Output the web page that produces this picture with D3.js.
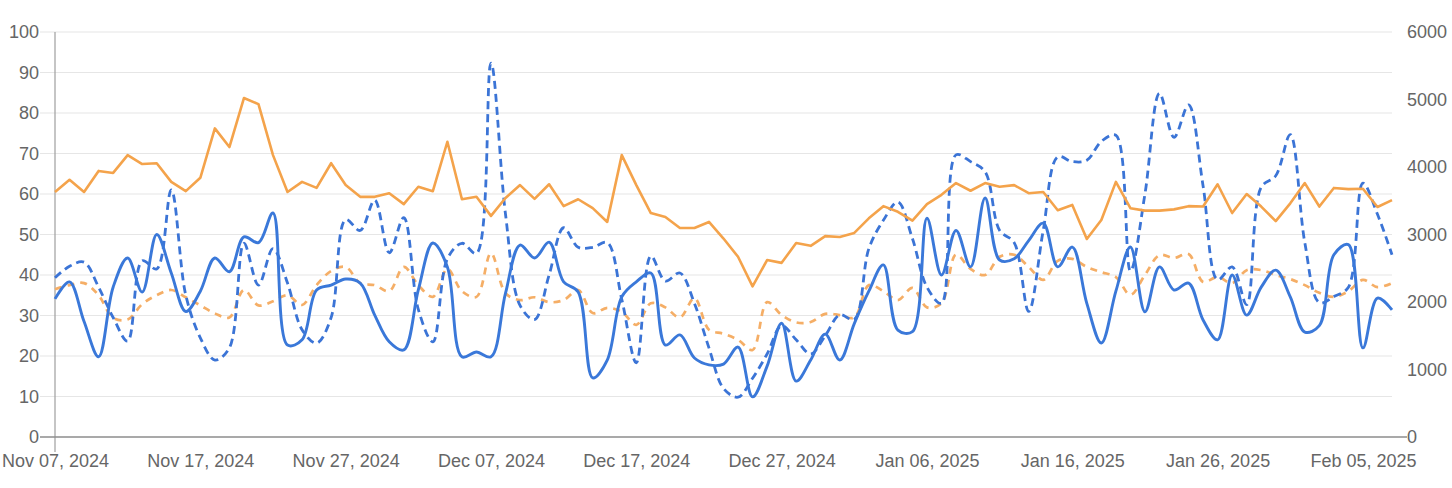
<!DOCTYPE html>
<html>
<head>
<meta charset="utf-8">
<script src="https://cdn.jsdelivr.net/npm/d3@7"></script>
<style>
  body { margin: 0; background: #fff; }
  svg { display: block; font-family: "Liberation Sans", Arial, sans-serif; }
</style>
</head>
<body>
<svg id="chart" width="1452" height="488"></svg>
<script>
// daily values, Nov 07 2024 .. Feb 07 2025
var startDate = new Date(2024, 10, 7);

var orangeSolid = [60.5, 63.5, 60.5, 65.7, 65.2, 69.6, 67.4, 67.6, 63, 60.7,
    64, 76.2, 71.6, 83.7, 82.2, 69.6, 60.5, 63, 61.5, 67.6,
    62.2, 59.3, 59.3, 60.2, 57.5, 61.8, 60.7, 72.9, 58.7, 59.3,
    54.6, 59, 62.2, 58.8, 62.4, 57, 58.7, 56.5, 53.1, 69.6,
    62.2, 55.3, 54.3, 51.6, 51.6, 53.1, 49, 44.5, 37.2, 43.7,
    43, 47.9, 47.2, 49.6, 49.4, 50.4, 54, 57, 55.6, 53.4,
    57.5, 59.8, 62.7, 60.8, 62.7, 61.8, 62.2, 60.2, 60.5, 56,
    57.3, 48.9, 53.6, 63, 56.5, 55.9, 55.9, 56.2, 57, 56.9,
    62.4, 55.3, 60, 56.9, 53.3, 57.7, 62.7, 56.9, 61.5, 61.2,
    61.3, 56.8, 58.5];

var orangeDashed = [36.5, 37.5, 38, 35, 29.4, 29, 32.8, 35, 36.3, 34.5,
    32.5, 30.5, 29.5, 36.3, 32.5, 33.5, 35, 32.6, 37.5, 41,
    42, 38, 37.5, 36, 42, 37.5, 34.6, 41.5, 36, 34.6,
    45.4, 35.5, 33.8, 34.5, 33.3, 33.8, 36.3, 30.6, 31.9, 30.9,
    27.7, 33, 32, 29.5, 34.3, 26.5, 25.5, 24, 21.5, 33.3,
    30.1, 28.3, 28.4, 30.4, 30.1, 29.5, 37.5, 36, 33.8, 36.8,
    32, 33, 45, 41.5, 40, 44.5, 45, 42, 38.8, 43.5,
    44, 42, 40.7, 39.5, 35.1, 40, 44.9, 44.2, 45.2, 38.3,
    39.5, 38, 41.2, 41.2, 40, 39, 37.5, 35.6, 34.6, 36,
    38.8, 37, 38];

var blueSolid = [34.1, 38.3, 28.5, 19.8, 37, 44.2, 35.8, 50, 40.5, 31,
    36, 44.2, 40.8, 49.4, 48, 55.3, 22.7, 24, 36.3, 37.5,
    39, 38, 30.1, 23.5, 21.5, 36.3, 47.9, 42, 19.8, 21,
    19.8, 35.5, 47.4, 44.2, 48.1, 38.3, 35.8, 14.6, 19, 34.6,
    38.3, 40.5, 22.7, 25.2, 19.5, 17.8, 18, 22.2, 9.9, 17.5,
    28.1, 13.8, 19, 25.4, 19, 28, 36, 42.5, 26.4, 26,
    54, 40, 51, 42, 59, 43.7, 44, 48.5, 52.8, 42,
    46.9, 33, 23.2, 36, 46.9, 30.9, 42, 36.3, 38, 28.9,
    24, 40, 30.1, 37, 41.2, 34.6, 25.9, 27.5, 45, 47.5,
    22, 34.3, 31.4];

// right axis units
var blueDashed = [2360, 2530, 2590, 2220, 1770, 1420, 2610, 2490, 3660, 2100,
    1470, 1140, 1320, 2870, 2250, 2790, 2280, 1590, 1390, 1770,
    3220, 3060, 3510, 2730, 3250, 1890, 1410, 2640, 2870, 2720,
    5540, 3300, 1950, 1740, 2400, 3100, 2810, 2810, 2880, 2040,
    1100, 2680, 2310, 2430, 1980, 1320, 720, 590, 870, 1230,
    1650, 1440, 1230, 1500, 1810, 1740, 2790, 3210, 3480, 2940,
    2220, 1980, 4180, 4080, 3930, 3060, 2880, 1860, 3060, 4150,
    4080, 4100, 4380, 4470, 2460, 3600, 5090, 4440, 4920, 3720,
    2330, 2520, 1960, 3700, 3870, 4480, 2880, 1990, 2080, 2220,
    3760, 3300, 2700];

var xTickLabels = ["Nov 07, 2024", "Nov 17, 2024", "Nov 27, 2024", "Dec 07, 2024",
    "Dec 17, 2024", "Dec 27, 2024", "Jan 06, 2025", "Jan 16, 2025",
    "Jan 26, 2025", "Feb 05, 2025"];
var leftTicks = [0, 10, 20, 30, 40, 50, 60, 70, 80, 90, 100];
var rightTicks = [0, 1000, 2000, 3000, 4000, 5000, 6000];

var svg = d3.select("#chart");
var plotLeft = 55, plotRight = 1392, plotTop = 32, plotBottom = 437;

function dayDate(i) {
    return d3.timeDay.offset(startDate, i);
}

var x = d3.scaleTime()
    .domain([startDate, dayDate(orangeSolid.length - 1)])
    .range([plotLeft, plotRight]);

var yLeft = d3.scaleLinear().domain([0, 100]).range([plotBottom, plotTop]);
var yRight = d3.scaleLinear().domain([0, 6000]).range([plotBottom, plotTop]);

var textColor = "#666";
var fontSize = "18px";

// gridlines
svg.append("g")
    .selectAll("line")
    .data(leftTicks.slice(1))
    .enter()
    .append("line")
    .attr("x1", 40)
    .attr("x2", plotRight)
    .attr("y1", function(d) { return yLeft(d); })
    .attr("y2", function(d) { return yLeft(d); })
    .attr("stroke", "#e6e6e6")
    .attr("stroke-width", 1.2);

// left axis
var leftAxis = svg.append("g")
    .attr("transform", "translate(" + plotLeft + ",0)")
    .call(d3.axisLeft(yLeft).tickValues(leftTicks).tickSize(0).tickPadding(16));
leftAxis.select(".domain").remove();
leftAxis.selectAll("text")
    .attr("fill", textColor)
    .attr("font-size", fontSize)
    .attr("font-family", "Liberation Sans, Arial, sans-serif");

svg.append("line")
    .attr("x1", plotLeft).attr("x2", plotLeft)
    .attr("y1", plotTop).attr("y2", plotBottom + 15)
    .attr("stroke", "#9e9e9e")
    .attr("stroke-width", 1.2);

// right axis
var rightAxis = svg.append("g")
    .attr("transform", "translate(" + plotRight + ",0)")
    .call(d3.axisRight(yRight).tickValues(rightTicks).tickSize(0).tickPadding(15)
        .tickFormat(d3.format("d")));
rightAxis.select(".domain").remove();
rightAxis.selectAll("text")
    .attr("fill", textColor)
    .attr("font-size", fontSize)
    .attr("font-family", "Liberation Sans, Arial, sans-serif");

// bottom axis
var tickDates = xTickLabels.map(function(d, i) { return dayDate(i * 10); });
var bottomAxis = svg.append("g")
    .attr("transform", "translate(0," + plotBottom + ")")
    .call(d3.axisBottom(x).tickValues(tickDates).tickSize(0).tickPadding(17)
        .tickFormat(function(d, i) { return xTickLabels[i]; }));
bottomAxis.select(".domain").remove();
bottomAxis.selectAll("text")
    .attr("fill", textColor)
    .attr("font-size", fontSize)
    .attr("font-family", "Liberation Sans, Arial, sans-serif");

svg.append("line")
    .attr("x1", 40).attr("x2", 1407)
    .attr("y1", plotBottom).attr("y2", plotBottom)
    .attr("stroke", "#8c8c8c")
    .attr("stroke-width", 1.5);

// lines
var lineLeftLinear = d3.line()
    .x(function(d, i) { return x(dayDate(i)); })
    .y(function(d) { return yLeft(d); });

var lineLeftSmooth = d3.line()
    .curve(d3.curveCatmullRom.alpha(0.5))
    .x(function(d, i) { return x(dayDate(i)); })
    .y(function(d) { return yLeft(d); });

var lineRightSmooth = d3.line()
    .curve(d3.curveCatmullRom.alpha(0.5))
    .x(function(d, i) { return x(dayDate(i)); })
    .y(function(d) { return yRight(d); });

svg.append("path")
    .datum(orangeDashed)
    .attr("d", lineLeftSmooth)
    .attr("fill", "none")
    .attr("stroke", "#F5AE66")
    .attr("stroke-width", 2.7)
    .attr("stroke-dasharray", "7,6");

svg.append("path")
    .datum(blueDashed)
    .attr("d", lineRightSmooth)
    .attr("fill", "none")
    .attr("stroke", "#3B74D6")
    .attr("stroke-width", 2.8)
    .attr("stroke-dasharray", "8,5");

svg.append("path")
    .datum(orangeSolid)
    .attr("d", lineLeftLinear)
    .attr("fill", "none")
    .attr("stroke", "#F4A34B")
    .attr("stroke-width", 2.6)
    .attr("stroke-linejoin", "round");

svg.append("path")
    .datum(blueSolid)
    .attr("d", lineLeftSmooth)
    .attr("fill", "none")
    .attr("stroke", "#3A78D9")
    .attr("stroke-width", 2.9);
</script>
</body>
</html>
